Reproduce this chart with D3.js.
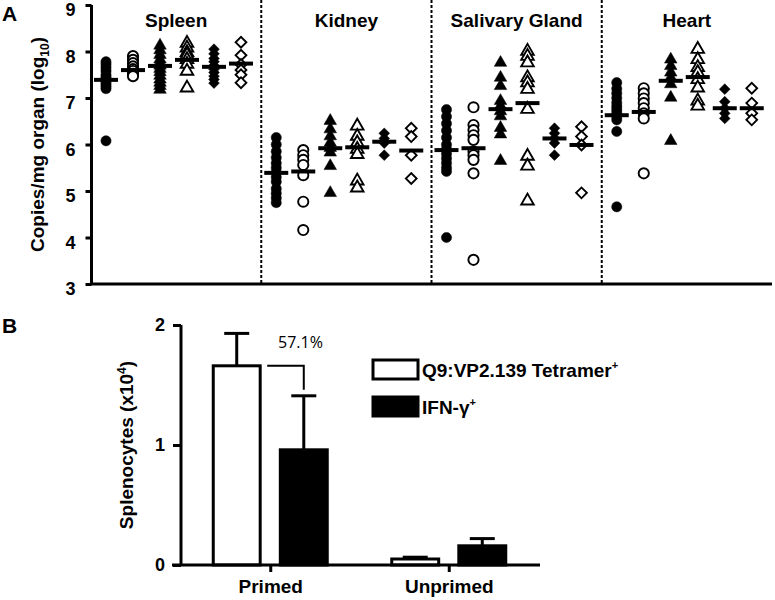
<!DOCTYPE html>
<html>
<head>
<meta charset="utf-8">
<script src="https://cdn.jsdelivr.net/npm/d3@7"></script>
<style>
  body { margin: 0; background: #fff; }
  svg { display: block; font-family: Arial, "Liberation Sans", sans-serif; }
  .bold { font-weight: bold; }
</style>
</head>
<body>
<svg id="chart" width="775" height="600"></svg>
<script>
// ---------- Panel A data ----------
const organs = ["Spleen", "Kidney", "Salivary Gland", "Heart"];
const columns = ["c1", "c2", "c3", "c4", "c5", "c6"];
const columnShapes = ["circle", "circle", "triangle", "triangle", "diamond", "diamond"];
const columnFilled = [true, false, true, false, true, false];
const yTicksA = [3, 4, 5, 6, 7, 8, 9];

const spleenValues = [
  [7.78, 7.72, 7.65, 7.58, 7.5, 7.45, 7.4, 7.35, 7.3, 7.25, 7.2, 6.08],
  [7.9, 7.82, 7.75, 7.68, 7.62, 7.58, 7.52, 7.47],
  [8.15, 8.05, 7.95, 7.85, 7.78, 7.72, 7.65, 7.58, 7.5, 7.42, 7.35, 7.28, 7.2],
  [8.2, 8.1, 8.0, 7.95, 7.85, 7.75, 7.6, 7.24],
  [8.05, 7.95, 7.85, 7.78, 7.7, 7.62, 7.55, 7.47, 7.4, 7.32],
  [8.2, 7.92, 7.72, 7.6, 7.5, 7.33]
];
const kidneyValues = [
  [6.15, 6.0, 5.85, 5.72, 5.6, 5.5, 5.4, 5.3, 5.2, 5.05, 4.95, 4.85, 4.75],
  [5.88, 5.77, 5.67, 5.56, 5.34, 4.77, 4.16],
  [6.53, 6.35, 6.2, 6.06, 5.95, 5.85, 5.56, 4.98],
  [6.42, 6.2, 6.06, 5.92, 5.81, 5.24, 5.09],
  [6.24, 6.13, 6.03, 5.77],
  [6.35, 6.17, 5.77, 5.27]
];
const salivaryValues = [
  [6.75, 6.6, 6.45, 6.3, 6.15, 6.0, 5.9, 5.8, 5.7, 5.6, 5.5, 5.42, 4.0],
  [6.8, 6.42, 6.31, 6.2, 6.1, 5.85, 5.77, 5.67, 5.38, 3.52],
  [7.78, 7.46, 7.28, 6.96, 6.85, 6.74, 6.63, 6.38, 6.24, 5.67],
  [8.03, 7.92, 7.78, 7.46, 7.35, 7.21, 6.78, 5.77, 5.56, 4.81],
  [6.35, 6.24, 6.13, 6.03, 5.77],
  [6.38, 6.17, 5.99, 4.96]
];
const heartValues = [
  [7.33, 7.2, 7.1, 7.0, 6.9, 6.82, 6.75, 6.68, 6.6, 6.53, 6.28, 4.66],
  [7.21, 7.1, 6.99, 6.89, 6.78, 6.67, 6.56, 5.38],
  [7.85, 7.71, 7.57, 7.46, 7.32, 7.03, 6.1],
  [8.07, 7.85, 7.68, 7.57, 7.42, 7.24, 6.96, 6.85],
  [7.19, 6.92, 6.78, 6.67, 6.56],
  [7.21, 6.89, 6.67, 6.53]
];
const spleenMedians   = [7.39, 7.6, 7.69, 7.82, 7.67, 7.74];
const kidneyMedians   = [5.39, 5.42, 5.92, 5.94, 6.06, 5.87];
const salivaryMedians = [5.88, 5.92, 6.76, 6.89, 6.13, 5.99];
const heartMedians    = [6.63, 6.7, 7.37, 7.45, 6.78, 6.78];

const organValues = [spleenValues, kidneyValues, salivaryValues, heartValues];
const organMedians = [spleenMedians, kidneyMedians, salivaryMedians, heartMedians];

// ---------- Panel B data ----------
const bGroups = ["Primed", "Unprimed"];
const bSeries = ["Q9:VP2.139 Tetramer", "IFN-γ"];
const tetramerMean = [1.66, 0.05];
const tetramerUpper = [1.93, 0.065];
const ifnMean = [0.96, 0.16];
const ifnUpper = [1.41, 0.22];
const yTicksB = [0, 1, 2];
const percentLabel = "57.1%";

// ---------- Drawing ----------
const svg = d3.select("#chart");
const FONT = "Arial, 'Liberation Sans', sans-serif";

// Panel A scales
const xOrgan = d3.scaleBand().domain(organs).range([91, 772]);
const xCol = d3.scalePoint().domain(columns).range([15, 150]);
const yA = d3.scaleLinear().domain([3, 9]).range([284, 5]);

const gA = svg.append("g");

// separators
gA.selectAll("line.sep").data(organs.slice(1)).join("line")
  .attr("class", "sep")
  .attr("x1", d => xOrgan(d)).attr("x2", d => xOrgan(d))
  .attr("y1", 0).attr("y2", yA(3))
  .attr("stroke", "#000").attr("stroke-width", 2)
  .attr("stroke-dasharray", "3,2");

// organ titles
gA.selectAll("text.organ").data(organs).join("text")
  .attr("class", "organ bold")
  .attr("x", d => xOrgan(d) + xOrgan.bandwidth() / 2)
  .attr("y", 27)
  .attr("text-anchor", "middle")
  .attr("font-size", 19)
  .text(d => d);

// markers
const symbolFor = {
  circle: d3.symbol().type(d3.symbolCircle).size(82),
  triangle: d3.symbol().type(d3.symbolTriangle).size(68),
  diamond: d3.symbol().type(d3.symbolSquare).size(58)
};
const points = [];
organs.forEach((org, oi) => {
  columns.forEach((col, ci) => {
    organValues[oi][ci].forEach(v => points.push({ org, col, ci, v }));
  });
});
gA.selectAll("path.pt").data(points).join("path")
  .attr("class", "pt")
  .attr("d", d => symbolFor[columnShapes[d.ci]]())
  .attr("transform", d => {
    const x = xOrgan(d.org) + xCol(d.col);
    const y = yA(d.v);
    const rot = columnShapes[d.ci] === "diamond" ? " rotate(45)" : "";
    const dy = columnShapes[d.ci] === "triangle" ? 1 : 0;
    return `translate(${x},${y + dy})${rot}`;
  })
  .attr("fill", d => columnFilled[d.ci] ? "#000" : "#fff")
  .attr("stroke", "#000")
  .attr("stroke-width", d => columnFilled[d.ci] ? 0.5 : 1.9);

// medians
const meds = [];
organs.forEach((org, oi) => columns.forEach((col, ci) => meds.push({ org, col, v: organMedians[oi][ci] })));
gA.selectAll("line.med").data(meds).join("line")
  .attr("class", "med")
  .attr("x1", d => xOrgan(d.org) + xCol(d.col) - 12)
  .attr("x2", d => xOrgan(d.org) + xCol(d.col) + 12)
  .attr("y1", d => yA(d.v)).attr("y2", d => yA(d.v))
  .attr("stroke", "#000").attr("stroke-width", 4);

// y axis A
const axA = gA.append("g").attr("transform", "translate(91.5,0)")
  .call(d3.axisLeft(yA).tickValues(yTicksA).tickSize(6).tickPadding(10).tickFormat(d3.format("d")));
axA.select(".domain").attr("stroke-width", 3).attr("d", `M0,${yA(9)}V${yA(3)}`);
axA.selectAll(".tick line").attr("stroke-width", 3);
axA.selectAll(".tick text").attr("font-size", 18).attr("font-weight", "bold")
  .attr("font-family", FONT).attr("dy", "0.6em");

// x axis line A
gA.append("line").attr("x1", 90).attr("x2", xOrgan.range()[1])
  .attr("y1", yA(3)).attr("y2", yA(3))
  .attr("stroke", "#000").attr("stroke-width", 3);

// y label A
const labA = gA.append("text").attr("class", "bold")
  .attr("transform", `translate(44,${(yA(3) + yA(9)) / 2}) rotate(-90)`)
  .attr("text-anchor", "middle").attr("font-size", 19);
labA.append("tspan").text("Copies/mg organ (log");
labA.append("tspan").attr("font-size", 12).attr("dy", 5).text("10");
labA.append("tspan").attr("dy", -5).text(")");

// Panel letters
svg.append("text").attr("class", "bold").attr("x", 2).attr("y", 21).attr("font-size", 21).text("A");
svg.append("text").attr("class", "bold").attr("x", 2).attr("y", 333).attr("font-size", 21).text("B");

// ---------- Panel B ----------
const gB = svg.append("g");
const xB = d3.scalePoint().domain(bGroups).range([181, 538]).padding(0.5);
const xInner = d3.scaleBand().domain(bSeries).range([-57, 57]).paddingInner(0.3);
const yB = d3.scaleLinear().domain([0, 2]).range([565, 325]);
const bw = xInner.bandwidth();

const seriesData = [
  { s: bSeries[0], mean: tetramerMean, upper: tetramerUpper, fill: "#fff" },
  { s: bSeries[1], mean: ifnMean, upper: ifnUpper, fill: "#000" }
];
const bars = [];
seriesData.forEach(sd => bGroups.forEach((g, i) => bars.push({ g, s: sd.s, mean: sd.mean[i], upper: sd.upper[i], fill: sd.fill })));

// error bars
gB.selectAll("line.errv").data(bars).join("line")
  .attr("x1", d => xB(d.g) + xInner(d.s) + bw / 2)
  .attr("x2", d => xB(d.g) + xInner(d.s) + bw / 2)
  .attr("y1", d => yB(d.mean)).attr("y2", d => yB(d.upper))
  .attr("stroke", "#000").attr("stroke-width", 3);
gB.selectAll("line.errc").data(bars).join("line")
  .attr("x1", d => xB(d.g) + xInner(d.s) + bw / 2 - 12.5)
  .attr("x2", d => xB(d.g) + xInner(d.s) + bw / 2 + 12.5)
  .attr("y1", d => yB(d.upper)).attr("y2", d => yB(d.upper))
  .attr("stroke", "#000").attr("stroke-width", 3);

gB.selectAll("rect.bar").data(bars).join("rect")
  .attr("x", d => xB(d.g) + xInner(d.s))
  .attr("width", bw)
  .attr("y", d => yB(d.mean))
  .attr("height", d => yB(0) - yB(d.mean))
  .attr("fill", d => d.fill)
  .attr("stroke", "#000").attr("stroke-width", 3);

// bracket + percent
const openRight = xB(bGroups[0]) + xInner(bSeries[0]) + bw + 7;
const filledCenter = xB(bGroups[0]) + xInner(bSeries[1]) + bw / 2;
gB.append("path")
  .attr("d", `M${openRight},${yB(tetramerMean[0])}H${filledCenter}V${yB(ifnUpper[0]) - 6}`)
  .attr("fill", "none").attr("stroke", "#000").attr("stroke-width", 2);
gB.append("text").attr("x", (openRight + filledCenter) / 2 + 15).attr("y", 348)
  .attr("text-anchor", "middle").attr("font-size", 16)
  .attr("font-family", "'Open Sans', Arial, sans-serif")
  .text(percentLabel);

// y axis B
const axB = gB.append("g").attr("transform", "translate(181,0)")
  .call(d3.axisLeft(yB).tickValues(yTicksB).tickSize(8).tickPadding(8).tickFormat(d3.format("d")));
axB.select(".domain").attr("stroke-width", 3).attr("d", `M0,${yB(2)}V${yB(0)}`);
axB.selectAll(".tick line").attr("stroke-width", 3);
axB.selectAll(".tick text").attr("font-size", 18).attr("font-weight", "bold")
  .attr("font-family", FONT);

// x axis B
const axXB = gB.append("g").attr("transform", `translate(0,${yB(0)})`)
  .call(d3.axisBottom(xB).tickSize(7).tickPadding(8));
axXB.select(".domain").attr("stroke-width", 3).attr("d", "M172,0H540");
axXB.selectAll(".tick line").attr("stroke-width", 3);
axXB.selectAll(".tick text").attr("font-size", 19).attr("font-weight", "bold")
  .attr("font-family", FONT);

// y label B
const labB = gB.append("text").attr("class", "bold")
  .attr("transform", `translate(133,${(yB(0) + yB(2)) / 2}) rotate(-90)`)
  .attr("text-anchor", "middle").attr("font-size", 19);
labB.append("tspan").text("Splenocytes (x10");
labB.append("tspan").attr("font-size", 12).attr("dy", -7).text("4");
labB.append("tspan").attr("dy", 7).text(")");

// legend
const legend = gB.append("g").attr("transform", "translate(373,360)");
const legItems = legend.selectAll("g").data(seriesData).join("g")
  .attr("transform", (d, i) => `translate(0,${i * 37})`);
legItems.append("rect").attr("width", 45).attr("height", 19)
  .attr("fill", d => d.fill).attr("stroke", "#000").attr("stroke-width", 3);
const lt = legItems.append("text").attr("class", "bold").attr("x", 49).attr("y", 17).attr("font-size", 19);
lt.append("tspan").text(d => d.s);
lt.append("tspan").attr("font-size", 11).attr("dy", -8).text("+");
</script>
</body>
</html>
